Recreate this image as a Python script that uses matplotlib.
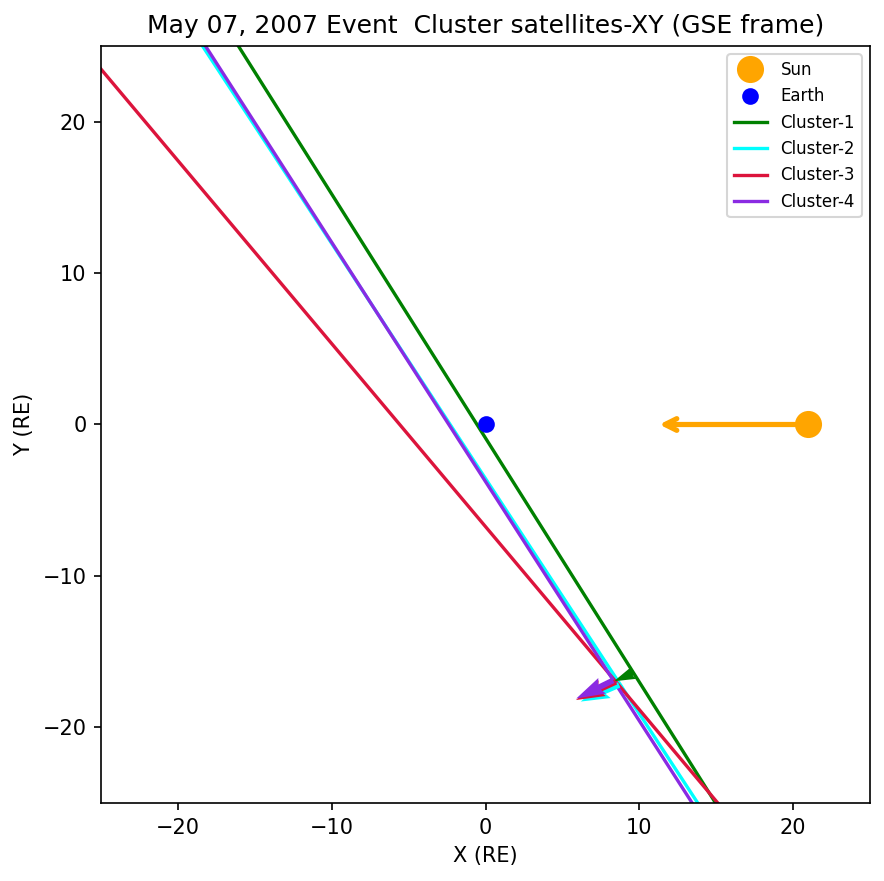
import matplotlib
matplotlib.use("Agg")
import matplotlib.pyplot as plt

# Orbit tracks (GSE X, Y in RE)
c1_x = [-19.17, 18.06]
c1_y = [30.0, -30.0]
c2_x = [-21.62, 17.02]
c2_y = [30.0, -30.0]
c3_x = [-30.4, 19.24]
c3_y = [30.0, -30.0]
c4_x = [-21.37, 16.6]
c4_y = [30.0, -30.0]

# Arrow positions and vectors
arrow_x = [9.65, 8.69, 8.48, 8.3]
arrow_y = [-16.4, -17.2, -17.0, -16.9]
arrow_u = [-1.3, -2.5, -2.6, -2.4]
arrow_v = [-0.56, -1.1, -1.2, -1.2]

sun_pos = (21.0, 0.0)
sun_arrow_tip = (11.3, 0.0)
earth_pos = (0.0, 0.0)

names = ["Cluster-1", "Cluster-2", "Cluster-3", "Cluster-4"]
colors = ["green", "cyan", "crimson", "blueviolet"]

fig = plt.figure(figsize=(884/150, 881/150), dpi=150)
ax = fig.add_axes([101/884, 1-803/881, (870-101)/884, (803-46)/881])

ax.plot([sun_pos[0]], [sun_pos[1]], 'o', color='orange', markersize=12, label='Sun', zorder=5)
ax.plot([earth_pos[0]], [earth_pos[1]], 'o', color='blue', markersize=7, label='Earth', zorder=5)
ax.annotate('', xy=sun_arrow_tip, xytext=sun_pos,
            arrowprops=dict(arrowstyle='->', color='orange', lw=2.5, mutation_scale=14, shrinkA=0, shrinkB=0))

tracks = [(c1_x, c1_y), (c2_x, c2_y), (c3_x, c3_y), (c4_x, c4_y)]
for (xs, ys), n, c in zip(tracks, names, colors):
    ax.plot(xs, ys, color=c, lw=1.6, label=n)

for i in range(4):
    ax.quiver(arrow_x[i], arrow_y[i], arrow_u[i], arrow_v[i], color=colors[i],
              angles='xy', scale_units='xy', scale=1, width=0.0075, zorder=4)

ax.set_xlim(-25, 25)
ax.set_ylim(-25, 25)
ax.set_xlabel('X (RE)')
ax.set_ylabel('Y (RE)')
ax.set_title('May 07, 2007 Event  Cluster satellites-XY (GSE frame)', fontsize=12)
ax.legend(loc='upper right', fontsize=8)

fig.savefig('out.png', dpi=150)
